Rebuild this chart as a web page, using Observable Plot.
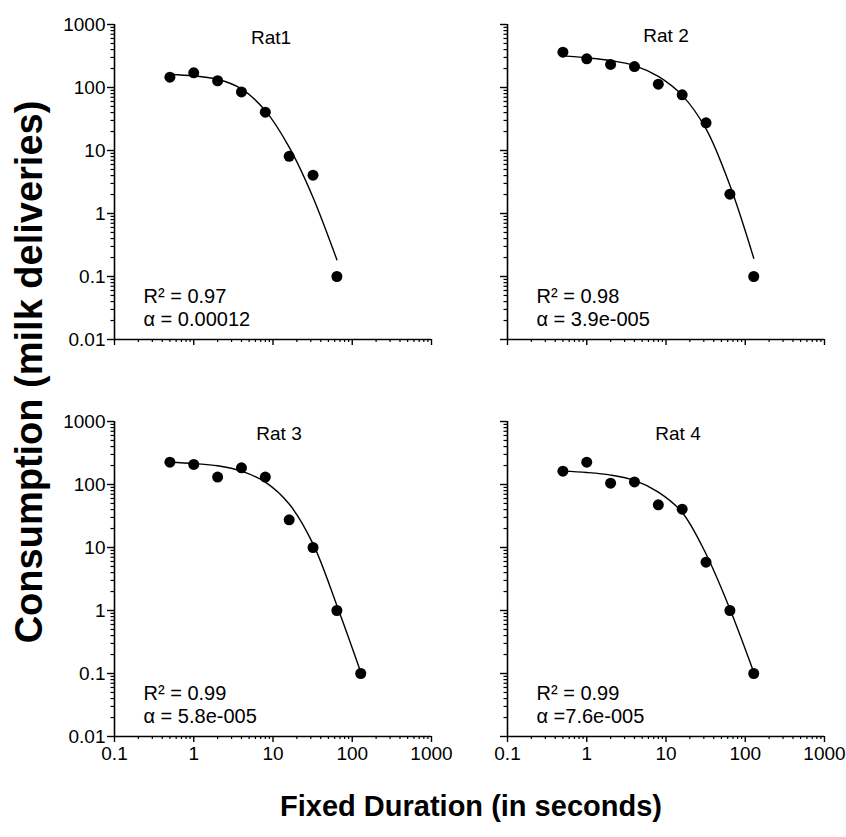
<!DOCTYPE html>
<html>
<head>
<meta charset="utf-8">
<script src="https://cdn.jsdelivr.net/npm/d3@7"></script>
<script src="https://cdn.jsdelivr.net/npm/@observablehq/plot@0.6"></script>
<style>
  html, body { margin: 0; padding: 0; background: #fff; }
  #fig { position: relative; width: 846px; height: 837px; background: #fff; font-family: "Liberation Sans", Arial, sans-serif; }
  .panel { position: absolute; }
  .panel svg { overflow: visible; }
  #ytitle { position: absolute; left: 29px; top: 372px; transform: translate(-50%, -50%) rotate(-90deg); white-space: nowrap; font-weight: bold; font-size: 38px; }
  #xtitle { position: absolute; left: 471px; top: 806px; transform: translate(-50%, -50%); white-space: nowrap; font-weight: bold; font-size: 29px; }
</style>
</head>
<body>
<div id="fig">
  <div id="ytitle">Consumption (milk deliveries)</div>
  <div id="xtitle">Fixed Duration (in seconds)</div>
</div>
<script>
// ---- data ----
const xTicks = [0.1, 1, 10, 100, 1000];
const yTicks = [0.01, 0.1, 1, 10, 100, 1000];
const durations = [0.5, 1, 2, 4, 8, 16, 32, 64, 128];

const rat1Obs = [146, 171, 128, 85, 40.5, 8.1, 4.06, 0.1];
const rat2Obs = [364, 285, 232, 215, 113, 76.5, 27.5, 2.03, 0.1];
const rat3Obs = [226, 208, 131, 184, 131, 27.5, 10, 1, 0.1];
const rat4Obs = [163, 226, 105, 110, 47.5, 40.5, 5.85, 1, 0.1];

const rat1Fit = [161, 153, 135, 95, 43, 11.3, 1.8, 0.184];
const rat2Fit = [318, 296, 268, 223, 150, 75, 22, 2.8, 0.195];
const rat3Fit = [226, 215, 198, 163, 109, 49, 11.4, 1.2, 0.105];
const rat4Fit = [163, 155, 141, 116, 75.5, 36, 7.9, 1.06, 0.105];

const titles = ["Rat1", "Rat 2", "Rat 3", "Rat 4"];
const r2Labels = ["R\u00b2 = 0.97", "R\u00b2 = 0.98", "R\u00b2 = 0.99", "R\u00b2 = 0.99"];
const alphaLabels = ["\u03b1 = 0.00012", "\u03b1 = 3.9e-005", "\u03b1 = 5.8e-005", "\u03b1 =7.6e-005"];

// ---- layout ----
const PW = 317, PH = 315;
const mL = 60, mR = 20, mT = 20, mB = 36;
const panels = [
  {obs: rat1Obs, fit: rat1Fit, left: 114, top: 24, yLabels: true,  xLabels: false, titleDx: -2, titleDy: 13},
  {obs: rat2Obs, fit: rat2Fit, left: 507, top: 24, yLabels: false, xLabels: false, titleDx: 0, titleDy: 11},
  {obs: rat3Obs, fit: rat3Fit, left: 114, top: 421, yLabels: true,  xLabels: true, titleDx: 6, titleDy: 12},
  {obs: rat4Obs, fit: rat4Fit, left: 507, top: 421, yLabels: false, xLabels: true, titleDx: 12, titleDy: 12}
];

const minor = (lo, hi) => {
  const out = [];
  for (let d = lo; d < hi; d *= 10) for (let k = 2; k <= 9; k++) out.push(+(d * k).toPrecision(3));
  return out;
};
const xMinor = minor(0.1, 1000);
const yMinor = minor(0.01, 1000);

const fig = document.getElementById("fig");

panels.forEach((p, i) => {
  const obs = p.obs.map((v, j) => ({x: durations[j], y: v}));
  const fit = p.fit.map((v, j) => ({x: durations[j], y: v}));
  const fmt = d => String(d);
  const chart = Plot.plot({
    width: mL + PW + mR,
    height: mT + PH + mB,
    marginLeft: mL, marginRight: mR, marginTop: mT, marginBottom: mB,
    style: {fontFamily: "'Liberation Sans', Arial, sans-serif", fontSize: "19px", color: "#000", background: "transparent", overflow: "visible"},
    x: {type: "log", domain: [0.1, 1000], axis: null},
    y: {type: "log", domain: [0.01, 1000], axis: null},
    marks: [
      Plot.axisY(yTicks, {anchor: "left", label: null, tickSize: 7, tickPadding: 2, strokeWidth: 1.4, fontSize: 19,
        tickFormat: p.yLabels ? fmt : () => ""}),
      Plot.axisY(yMinor, {anchor: "left", label: null, tickSize: 3.5, strokeWidth: 1.2, tickFormat: () => ""}),
      Plot.axisX(xTicks, {anchor: "bottom", label: null, tickSize: 6, tickPadding: 4, strokeWidth: 1.4, fontSize: 19,
        tickFormat: p.xLabels ? fmt : () => ""}),
      Plot.axisX(xMinor, {anchor: "bottom", label: null, tickSize: 3, strokeWidth: 1.2, tickFormat: () => ""}),
      Plot.ruleX([0.1], {stroke: "#000", strokeWidth: 1.6}),
      Plot.ruleY([0.01], {stroke: "#000", strokeWidth: 1.6}),
      Plot.line(fit, {x: "x", y: "y", stroke: "#000", strokeWidth: 1.4, curve: "catmull-rom"}),
      Plot.dot(obs, {x: "x", y: "y", r: 5.5, fill: "#000", stroke: "none"}),
      Plot.text([titles[i]], {frameAnchor: "top", lineAnchor: "middle", dx: p.titleDx, dy: p.titleDy, fontSize: 19, fill: "#000"}),
      Plot.text([r2Labels[i]], {frameAnchor: "bottom-left", textAnchor: "start", lineAnchor: "middle", dx: 29, dy: -43, fontSize: 20, fill: "#000"}),
      Plot.text([alphaLabels[i]], {frameAnchor: "bottom-left", textAnchor: "start", lineAnchor: "middle", dx: 29, dy: -20, fontSize: 20, fill: "#000"})
    ]
  });
  const wrap = document.createElement("div");
  wrap.className = "panel";
  wrap.style.left = (p.left - mL) + "px";
  wrap.style.top = (p.top - mT) + "px";
  wrap.appendChild(chart);
  fig.appendChild(wrap);
});
</script>
</body>
</html>
